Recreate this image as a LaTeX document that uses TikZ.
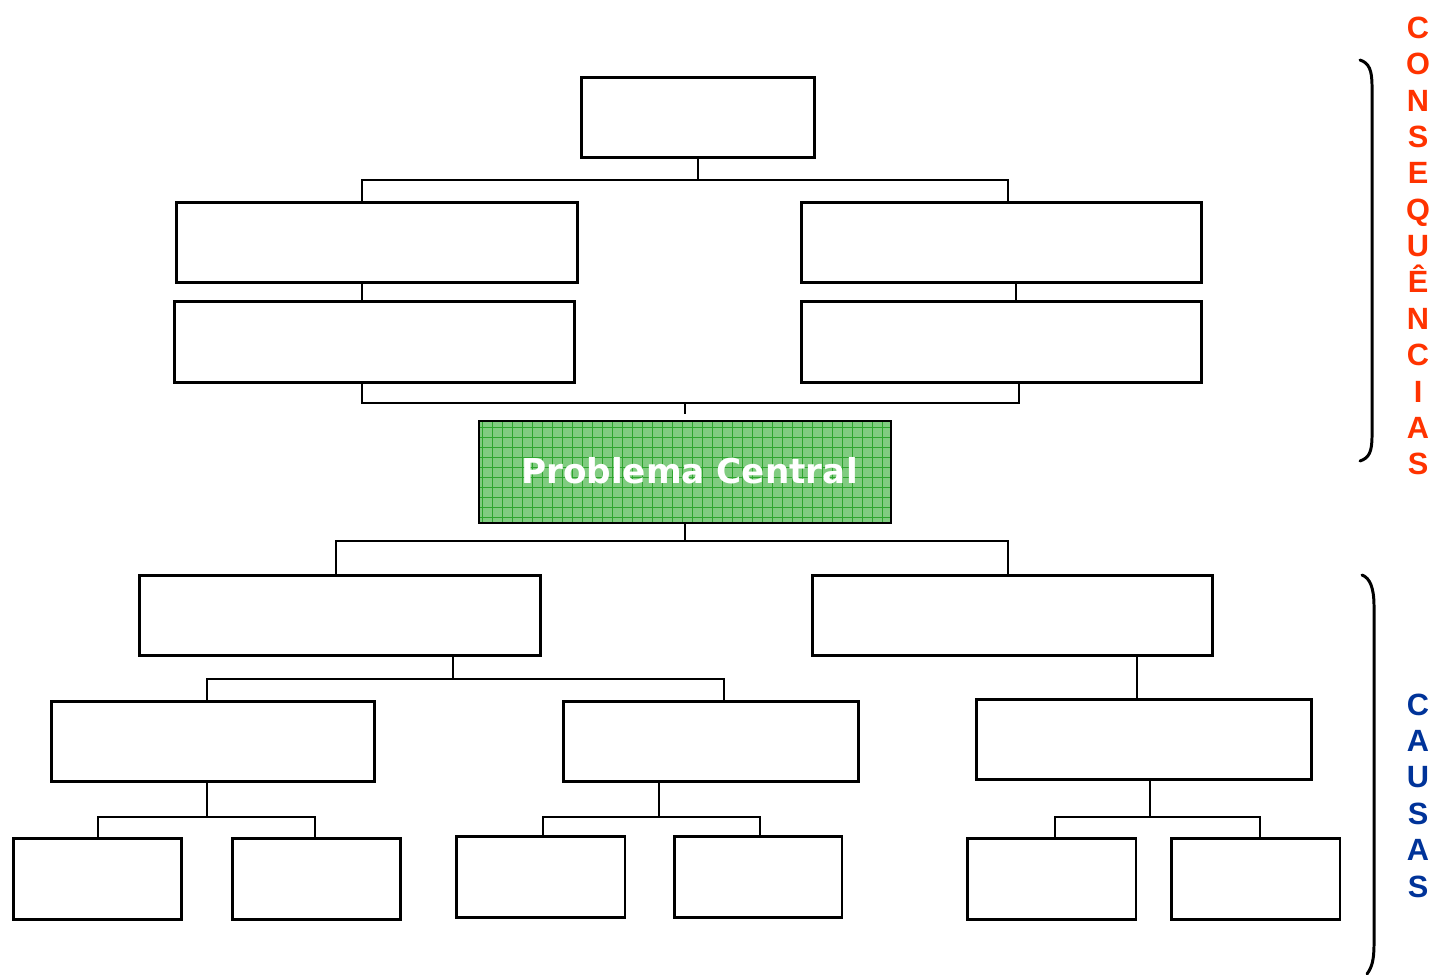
\documentclass[tikz,border=0pt]{standalone}
\usepackage{fontspec}
\setmainfont{Liberation Sans}
\newfontfamily\widefont{DejaVu Sans}
\usepackage{tikz}
\usetikzlibrary{positioning}

\definecolor{consred}{RGB}{255,51,0}
\definecolor{causblue}{RGB}{0,51,153}
\definecolor{probgreen}{RGB}{128,204,128}
\definecolor{gridgreen}{RGB}{45,165,45}

\tikzset{
    link/.style={draw=black,line width=0.9pt},
    brace/.style={draw=black,line width=1.7pt,line cap=round},
    sidetext/.style={font=\fontsize{17.5}{20.7}\selectfont\bfseries,align=center}
}

\begin{document}
\begin{tikzpicture}[x=0.02cm,y=-0.02cm]
        \useasboundingbox (0,0) rectangle (1439,974);

        % consequencias
        \begin{scope}[every node/.style={rectangle,draw,line width=1.7pt,inner sep=0pt,
                minimum height=1.61cm}]
            \node[minimum width=4.68cm] (top) at (698,117.5) {};
            \node[minimum width=8.04cm] (c1l) at (377,242.5) {};
            \node[minimum width=8.02cm] (c1r) at (1001.5,242.5) {};
            \node[minimum width=8.02cm] (c2l) at (374.5,342) {};
            \node[minimum width=8.02cm] (c2r) at (1001.5,342) {};
        \end{scope}

        % problema central
        \node[draw=black,line width=0.9pt,inner sep=0pt,minimum width=8.24cm,minimum height=2.04cm,
            fill=probgreen,text=white,font=\widefont\bfseries\fontsize{19.5}{22}\selectfont,
            path picture={\draw[gridgreen,line width=0.3pt,step=0.2cm]
                (path picture bounding box.south west) grid (path picture bounding box.north east);}]
            (central) at (685,472) {\hspace*{5pt}\raisebox{2pt}{Problema Central}};

        % causas
        \begin{scope}[every node/.style={rectangle,draw,line width=1.7pt,inner sep=0pt,
                minimum height=1.61cm}]
            \node[minimum width=8.04cm] (a1) at (340,615.5) {};
            \node[minimum width=8.02cm] (a2) at (1012.5,615.5) {};
            \node[minimum width=6.48cm] (b1) at (213,741.5) {};
            \node[minimum width=5.92cm] (b2) at (711,741.5) {};
            \node[minimum width=6.72cm] (b3) at (1144,739.5) {};
            \node[minimum width=3.38cm] (d1) at (97.5,879) {};
            \node[minimum width=3.38cm] (d2) at (316.5,879) {};
            \node[minimum width=3.38cm] (d3) at (540.5,877) {};
            \node[minimum width=3.36cm] (d4) at (758,877) {};
            \node[minimum width=3.38cm] (d5) at (1051.5,879) {};
            \node[minimum width=3.38cm] (d6) at (1255.5,879) {};
        \end{scope}

        % bus lines
        \coordinate (bus1l) at (362,180);
        \coordinate (bus1r) at (1008,180);
        \coordinate (bus2l) at (362,403);
        \coordinate (bus2r) at (1019,403);
        \coordinate (bus3l) at (336,541);
        \coordinate (bus3r) at (1008,541);
        \coordinate (bus4l) at (207,679);
        \coordinate (bus4r) at (724,679);
        \coordinate (bus5l) at (98,817);
        \coordinate (bus5r) at (315,817);
        \coordinate (bus6l) at (543,817);
        \coordinate (bus6r) at (760,817);
        \coordinate (bus7l) at (1055,817);
        \coordinate (bus7r) at (1260,817);

        \begin{scope}[every path/.style={link}]
            \draw (top.south) -- (top.south |- bus1l);
            \draw (c1l.north -| bus1l) -- (bus1l) -- (bus1r) -- (c1r.north -| bus1r);
            \draw (c1l.south -| bus1l) -- (c2l.north -| bus1l);
            \draw (c1r.south -| 1016,0) -- (c2r.north -| 1016,0);
            \draw (c2l.south -| bus2l) -- (bus2l) -- (bus2r) -- (c2r.south -| bus2r);
            \draw (central.north |- bus2l) -- ++(0,11);
            \draw (central.south) -- (central.south |- bus3l);
            \draw (a1.north -| bus3l) -- (bus3l) -- (bus3r) -- (a2.north -| bus3r);
            \draw (a1.south -| 453,0) -- (bus4l -| 453,0);
            \draw (b1.north -| bus4l) -- (bus4l) -- (bus4r) -- (b2.north -| bus4r);
            \draw (a2.south -| 1137,0) -- (b3.north -| 1137,0);
            \draw (b1.south -| 207,0) -- (bus5l -| 207,0);
            \draw (d1.north -| bus5l) -- (bus5l) -- (bus5r) -- (d2.north -| bus5r);
            \draw (b2.south -| 659,0) -- (bus6l -| 659,0);
            \draw (d3.north -| bus6l) -- (bus6l) -- (bus6r) -- (d4.north -| bus6r);
            \draw (b3.south -| 1150,0) -- (bus7l -| 1150,0);
            \draw (d5.north -| bus7l) -- (bus7l) -- (bus7r) -- (d6.north -| bus7r);
        \end{scope}

        % braces
        \draw[brace] (1360,60) .. controls (1369,63) and (1372,70) .. (1372,86)
            -- (1372,436) .. controls (1372,452) and (1369,458) .. (1360,461);
        \draw[brace] (1362,575) .. controls (1370,578) and (1374,588) .. (1374,606)
            -- (1374,944) .. controls (1374,960) and (1372,967) .. (1367,974);

        \node[sidetext,text=consred] (conseq) at (1418,246)
            {C\\O\\N\\S\\E\\Q\\U\\Ê\\N\\C\\I\\A\\S};
        \node[sidetext,text=causblue] (causas) at (1418,795.5)
            {C\\A\\U\\S\\A\\S};
\end{tikzpicture}
\end{document}
